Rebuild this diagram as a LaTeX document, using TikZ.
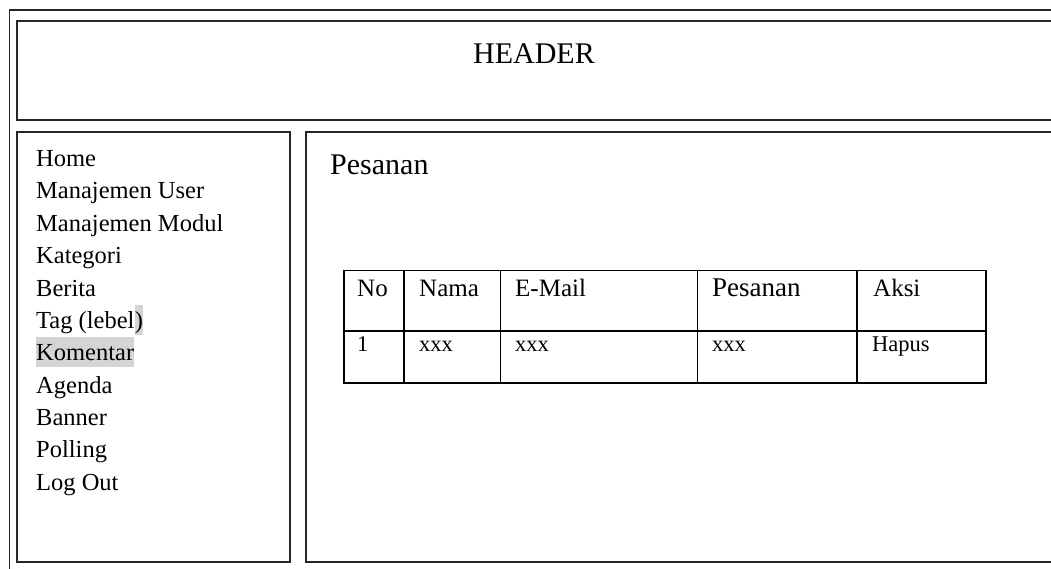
\documentclass[tikz,border=0pt]{standalone}
\usepackage{fontspec}
\setmainfont{Liberation Serif}
\begin{document}
\begin{tikzpicture}[x=1pt,y=-1pt,
  frame/.style={draw=black!85, line width=1.9pt, anchor=north west, inner sep=0pt, outer sep=0pt},
  cell/.style={draw=black, line width=1.4pt, anchor=north west, inner sep=0pt, outer sep=0pt},
  menu/.style={anchor=base west, inner sep=0pt, font=\fontsize{24.5}{24.5}\selectfont},
  thead/.style={anchor=base west, inner sep=0pt, font=\fontsize{25}{25}\selectfont},
  tbody/.style={anchor=base west, inner sep=0pt, font=\fontsize{22.5}{22.5}\selectfont},
  title/.style={inner sep=0pt, font=\fontsize{30}{30}\selectfont},
  hl/.style={fill=black!17}]
\useasboundingbox (0,0) rectangle (1051,569);
\clip (0,0) rectangle (1051,569);
% frames
\node[frame, minimum width=1100pt, minimum height=600pt] (outer) at (9.5,10) {};
\node[frame, minimum width=1100pt, minimum height=99pt] (header) at (17,21) {};
\node[frame, minimum width=273pt, minimum height=430pt] (sidebar) at (17,132) {};
\node[frame, minimum width=800pt, minimum height=430pt] (content) at (306,131.7) {};
% header text
\node[title, anchor=base] (htext) at (534,63.3) {HEADER};
% menu
\node[menu] (m1) at (36,166.7) {Home};
\node[menu] (m2) at (36,199.0) {Manajemen User};
\node[menu] (m3) at (36,231.4) {Manajemen Modul};
\node[menu] (m4) at (36,263.7) {Kategori};
\node[menu] (m5) at (36,296.0) {Berita};
\node[menu] (m6) at (36,328.4) {Tag (lebel};
\node[menu, hl, text height=23.5pt, text depth=6.5pt] (m6b) at (m6.base east) {)};
\node[menu, hl, text height=23.5pt, text depth=6.5pt] (m7) at (36,360.7) {Komentar};
\node[menu] (m8) at (36,393.0) {Agenda};
\node[menu] (m9) at (36,425.4) {Banner};
\node[menu] (m10) at (36,457.7) {Polling};
\node[menu] (m11) at (36,490.0) {Log Out};
% content title
\node[title, anchor=base west] (ptitle) at (330,175) {Pesanan};
% table cells
\node[cell, minimum width=60pt, minimum height=60.3pt] (c11) at (344,270.7) {};
\node[cell, minimum width=96.7pt, minimum height=60.3pt] (c12) at (404,270.7) {};
\node[cell, minimum width=196.8pt, minimum height=60.3pt] (c13) at (500.7,270.7) {};
\node[cell, minimum width=159.5pt, minimum height=60.3pt] (c14) at (697.5,270.7) {};
\node[cell, minimum width=129pt, minimum height=60.3pt] (c15) at (857,270.7) {};
\node[cell, minimum width=60pt, minimum height=52pt] (c21) at (344,331) {};
\node[cell, minimum width=96.7pt, minimum height=52pt] (c22) at (404,331) {};
\node[cell, minimum width=196.8pt, minimum height=52pt] (c23) at (500.7,331) {};
\node[cell, minimum width=159.5pt, minimum height=52pt] (c24) at (697.5,331) {};
\node[cell, minimum width=129pt, minimum height=52pt] (c25) at (857,331) {};
% table text
\node[thead] (t11) at (357,296.7) {No};
\node[thead] (t12) at (419,296.7) {Nama};
\node[thead] (t13) at (515,296.7) {E-Mail};
\node[thead, font=\fontsize{27}{27}\selectfont] (t14) at (712,296.7) {Pesanan};
\node[thead] (t15) at (873,296.7) {Aksi};
\node[tbody] (t21) at (357,351.7) {1};
\node[tbody] (t22) at (419,351.7) {xxx};
\node[tbody] (t23) at (515,351.7) {xxx};
\node[tbody] (t24) at (712,351.7) {xxx};
\node[tbody] (t25) at (872,351.7) {Hapus};
\end{tikzpicture}
\end{document}
